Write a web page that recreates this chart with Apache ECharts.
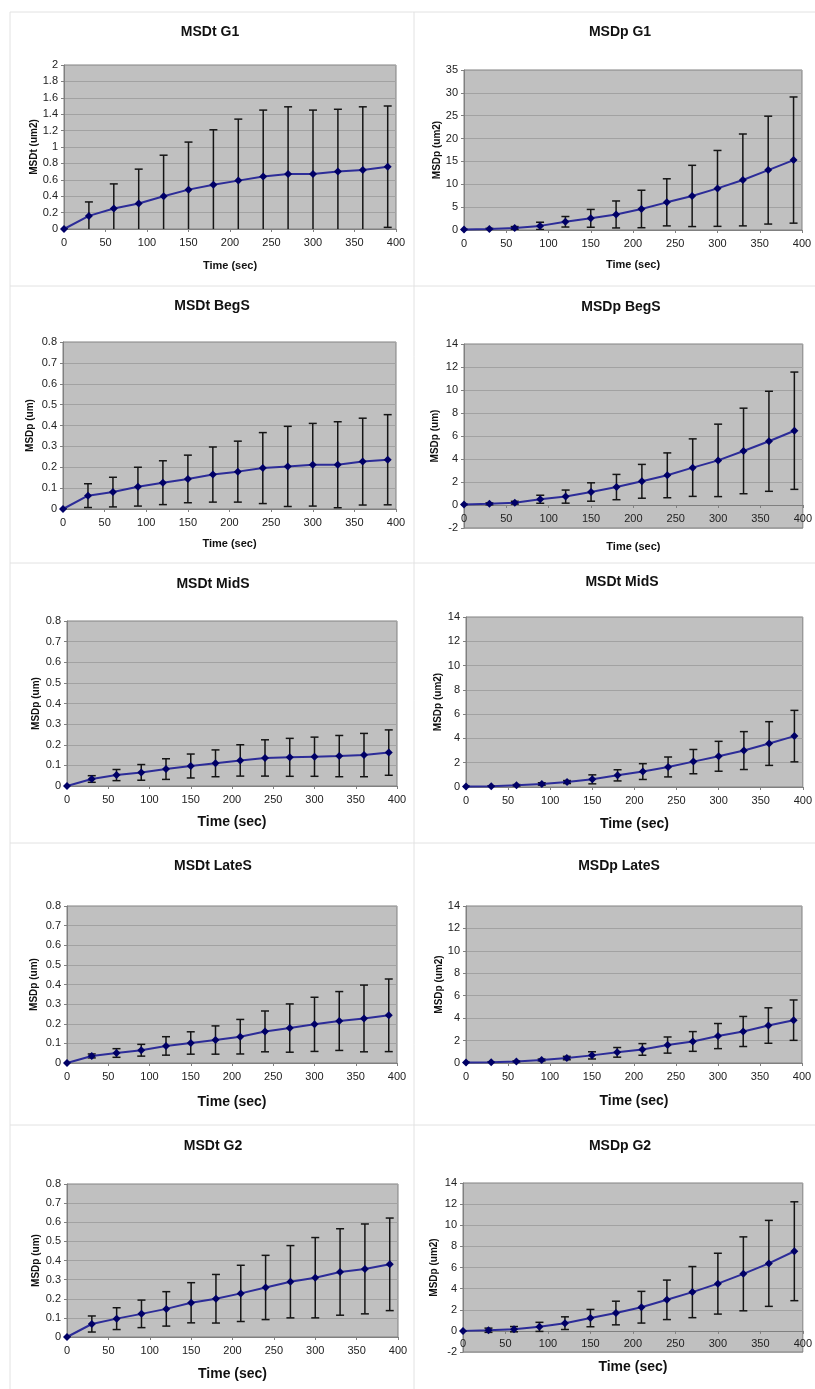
<!DOCTYPE html>
<html>
<head>
<meta charset="utf-8">
<script src="https://cdn.jsdelivr.net/npm/echarts@6/dist/echarts.min.js"></script>
<style>
html, body { margin: 0; padding: 0; background: #fff; }
#chart { width: 815px; height: 1389px; }
</style>
</head>
<body>
<div id="chart"></div>
<script>
// time points (sec)
var times = [0, 30, 60, 90, 120, 150, 180, 210, 240, 270, 300, 330, 360, 390];

// mean values and error (+/-) per panel
var g1tMean = [0, 0.16, 0.25, 0.31, 0.40, 0.48, 0.54, 0.59, 0.64, 0.67, 0.67, 0.70, 0.72, 0.76];
var g1tErr  = [0, 0.17, 0.30, 0.42, 0.50, 0.58, 0.67, 0.75, 0.81, 0.82, 0.78, 0.76, 0.77, 0.74];
var g1pMean = [0.1, 0.2, 0.45, 0.9, 1.8, 2.55, 3.4, 4.6, 6.05, 7.45, 9.1, 10.95, 13.1, 15.3];
var g1pErr  = [0, 0.15, 0.3, 0.8, 1.15, 1.95, 2.95, 4.1, 5.15, 6.7, 8.3, 10.05, 11.8, 13.8];
var begtMean = [0, 0.064, 0.081, 0.107, 0.126, 0.144, 0.165, 0.179, 0.196, 0.204, 0.212, 0.212, 0.227, 0.236];
var begtErr  = [0, 0.057, 0.071, 0.093, 0.105, 0.114, 0.132, 0.146, 0.170, 0.192, 0.198, 0.206, 0.208, 0.216];
var begpMean = [0.05, 0.1, 0.2, 0.5, 0.73, 1.13, 1.56, 2.06, 2.58, 3.25, 3.88, 4.7, 5.54, 6.46];
var begpErr  = [0, 0.08, 0.12, 0.35, 0.57, 0.8, 1.1, 1.47, 1.95, 2.5, 3.15, 3.72, 4.35, 5.1];
var midtMean = [0, 0.034, 0.053, 0.066, 0.082, 0.097, 0.11, 0.124, 0.136, 0.139, 0.142, 0.145, 0.15, 0.162];
var midtErr  = [0, 0.016, 0.027, 0.038, 0.05, 0.058, 0.065, 0.076, 0.088, 0.092, 0.095, 0.1, 0.105, 0.11];
var midpMean = [0.05, 0.06, 0.14, 0.25, 0.41, 0.63, 0.96, 1.27, 1.65, 2.09, 2.53, 3.0, 3.58, 4.19];
var midpErr  = [0, 0.04, 0.06, 0.1, 0.12, 0.37, 0.46, 0.65, 0.82, 1.0, 1.23, 1.56, 1.8, 2.12];
var latetMean = [0, 0.036, 0.051, 0.065, 0.087, 0.102, 0.117, 0.134, 0.161, 0.178, 0.197, 0.214, 0.227, 0.243];
var latetErr  = [0, 0.01, 0.022, 0.03, 0.047, 0.057, 0.072, 0.088, 0.104, 0.123, 0.138, 0.15, 0.17, 0.185];
var latepMean = [0.05, 0.06, 0.14, 0.27, 0.44, 0.68, 0.95, 1.21, 1.6, 1.92, 2.4, 2.81, 3.34, 3.82];
var latepErr  = [0, 0.03, 0.05, 0.08, 0.15, 0.32, 0.43, 0.52, 0.72, 0.88, 1.12, 1.34, 1.58, 1.8];
var g2tMean = [0, 0.068, 0.096, 0.121, 0.147, 0.179, 0.2, 0.228, 0.259, 0.289, 0.31, 0.34, 0.356, 0.38];
var g2tErr  = [0, 0.042, 0.057, 0.072, 0.09, 0.105, 0.127, 0.147, 0.168, 0.189, 0.21, 0.226, 0.235, 0.242];
var g2pMean = [0, 0.06, 0.16, 0.38, 0.73, 1.21, 1.69, 2.24, 2.94, 3.67, 4.47, 5.4, 6.39, 7.54];
var g2pErr  = [0, 0.2, 0.25, 0.43, 0.6, 0.82, 1.12, 1.5, 1.87, 2.42, 2.88, 3.5, 4.07, 4.68];

// panel layout: grid box [left, top, width, height], title centre, name gaps
var panels = [
	{ title: 'MSDt G1', yName: 'MSDt (um2)', mean: g1tMean, err: g1tErr, min: 0, max: 2, step: 0.2,
	  box: [64, 65, 332, 164], tx: 210, ty: 33, yGap: 23, xGap: 31, xSize: 11 },
	{ title: 'MSDp G1', yName: 'MSDp (um2)', mean: g1pMean, err: g1pErr, min: 0, max: 35, step: 5,
	  box: [464, 70, 338, 160], tx: 620, ty: 33, yGap: 21, xGap: 29, xSize: 11 },
	{ title: 'MSDt BegS', yName: 'MSDp (um)', mean: begtMean, err: begtErr, min: 0, max: 0.8, step: 0.1,
	  box: [63, 342, 333, 167], tx: 212, ty: 307, yGap: 28, xGap: 29, xSize: 11 },
	{ title: 'MSDp BegS', yName: 'MSDp (um)', mean: begpMean, err: begpErr, min: -2, max: 14, step: 2,
	  box: [464, 344, 340, 184], tx: 621, ty: 308, yGap: 24, xGap: 36, xSize: 11 },
	{ title: 'MSDt MidS', yName: 'MSDp (um)', mean: midtMean, err: midtErr, min: 0, max: 0.8, step: 0.1,
	  box: [67, 621, 330, 165], tx: 213, ty: 585, yGap: 26, xGap: 29, xSize: 14 },
	{ title: 'MSDt MidS', yName: 'MSDp (um2)', mean: midpMean, err: midpErr, min: 0, max: 14, step: 2,
	  box: [466, 617, 343, 170], tx: 622, ty: 583, yGap: 23, xGap: 30, xSize: 14 },
	{ title: 'MSDt LateS', yName: 'MSDp (um)', mean: latetMean, err: latetErr, min: 0, max: 0.8, step: 0.1,
	  box: [67, 906, 330, 157], tx: 213, ty: 867, yGap: 28, xGap: 32, xSize: 14 },
	{ title: 'MSDp LateS', yName: 'MSDp (um2)', mean: latepMean, err: latepErr, min: 0, max: 14, step: 2,
	  box: [466, 906, 336, 157], tx: 619, ty: 867, yGap: 22, xGap: 31, xSize: 14 },
	{ title: 'MSDt G2', yName: 'MSDp (um)', mean: g2tMean, err: g2tErr, min: 0, max: 0.8, step: 0.1,
	  box: [67, 1184, 331, 153], tx: 213, ty: 1147, yGap: 26, xGap: 30, xSize: 14 },
	{ title: 'MSDp G2', yName: 'MSDp (um2)', mean: g2pMean, err: g2pErr, min: -2, max: 14, step: 2,
	  box: [463, 1183, 341, 169], tx: 620, ty: 1147, yGap: 24, xGap: 29, xSize: 14 }
];

var FONT = '"Liberation Sans", Arial, sans-serif';

function errorBarItem(params, api) {
	var x = api.value(0);
	var top = api.coord([x, api.value(2)]);
	var bot = api.coord([x, api.value(1)]);
	var w = 4;
	var style = { stroke: '#151515', lineWidth: 1.5 };
	return {
		type: 'group',
		children: [
			{ type: 'line', shape: { x1: top[0], y1: top[1], x2: bot[0], y2: bot[1] }, style: style },
			{ type: 'line', shape: { x1: top[0] - w, y1: top[1], x2: top[0] + w, y2: top[1] }, style: style },
			{ type: 'line', shape: { x1: bot[0] - w, y1: bot[1], x2: bot[0] + w, y2: bot[1] }, style: style }
		]
	};
}

var titles = [], grids = [], xAxes = [], yAxes = [], series = [];

panels.forEach(function (p, i) {
	// x axis crosses the y axis at 0 (Excel style), so lift it when min < 0
	var zeroLift = p.min < 0 ? -p.box[3] * (0 - p.min) / (p.max - p.min) : 0;

	titles.push({
		text: p.title, left: p.tx, top: p.ty - 8, textAlign: 'center', padding: 0,
		textStyle: { fontSize: 14, fontWeight: 'bold', color: '#111', fontFamily: FONT }
	});
	grids.push({
		left: p.box[0], top: p.box[1], width: p.box[2], height: p.box[3],
		show: true, backgroundColor: '#c0c0c0', borderColor: '#808080', borderWidth: 1
	});
	xAxes.push({
		type: 'value', gridIndex: i, min: 0, max: 400, interval: 50, offset: zeroLift,
		name: 'Time (sec)', nameLocation: 'middle', nameGap: p.xGap,
		nameTextStyle: { fontSize: p.xSize, fontWeight: 'bold', color: '#111', fontFamily: FONT },
		axisLine: { show: true, onZero: false, lineStyle: { color: '#808080', width: 1 } },
		axisTick: { show: true, length: 3, lineStyle: { color: '#808080' } },
		axisLabel: { fontSize: 11, color: '#222', margin: 8, fontFamily: FONT },
		splitLine: { show: false }
	});
	yAxes.push({
		type: 'value', gridIndex: i, min: p.min, max: p.max, interval: p.step,
		name: p.yName, nameLocation: 'middle', nameRotate: 90, nameGap: p.yGap,
		nameTextStyle: { fontSize: 10, fontWeight: 'bold', color: '#111', fontFamily: FONT },
		axisLine: { show: true, onZero: false, lineStyle: { color: '#808080', width: 1 } },
		axisTick: { show: true, length: 3, lineStyle: { color: '#808080' } },
		axisLabel: { fontSize: 11, color: '#222', margin: 6, fontFamily: FONT },
		splitLine: { show: true, lineStyle: { color: '#a2a2a2', width: 1 } }
	});
	series.push({
		type: 'custom', xAxisIndex: i, yAxisIndex: i, clip: true, z: 2,
		renderItem: errorBarItem,
		encode: { x: 0, y: [1, 2] },
		data: times.map(function (t, k) { return [t, p.mean[k] - p.err[k], p.mean[k] + p.err[k]]; })
	});
	series.push({
		type: 'line', xAxisIndex: i, yAxisIndex: i, z: 3,
		symbol: 'diamond', symbolSize: 8,
		lineStyle: { color: '#2c2c98', width: 2 },
		itemStyle: { color: '#000066' },
		data: times.map(function (t, k) { return [t, p.mean[k]]; })
	});
});

// light frame lines between the panels
var sepStyle = { stroke: '#e2e2e2', lineWidth: 1 };
var graphics = [];
[12, 286, 563, 843, 1125].forEach(function (y) {
	graphics.push({ type: 'line', shape: { x1: 10, y1: y, x2: 815, y2: y }, style: sepStyle, silent: true });
});
[10, 414].forEach(function (x) {
	graphics.push({ type: 'line', shape: { x1: x, y1: 12, x2: x, y2: 1389 }, style: sepStyle, silent: true });
});

var chart = echarts.init(document.getElementById('chart'));
chart.setOption({
	backgroundColor: '#ffffff',
	animation: false,
	textStyle: { fontFamily: FONT },
	title: titles,
	grid: grids,
	xAxis: xAxes,
	yAxis: yAxes,
	series: series,
	graphic: graphics
});
</script>
</body>
</html>
